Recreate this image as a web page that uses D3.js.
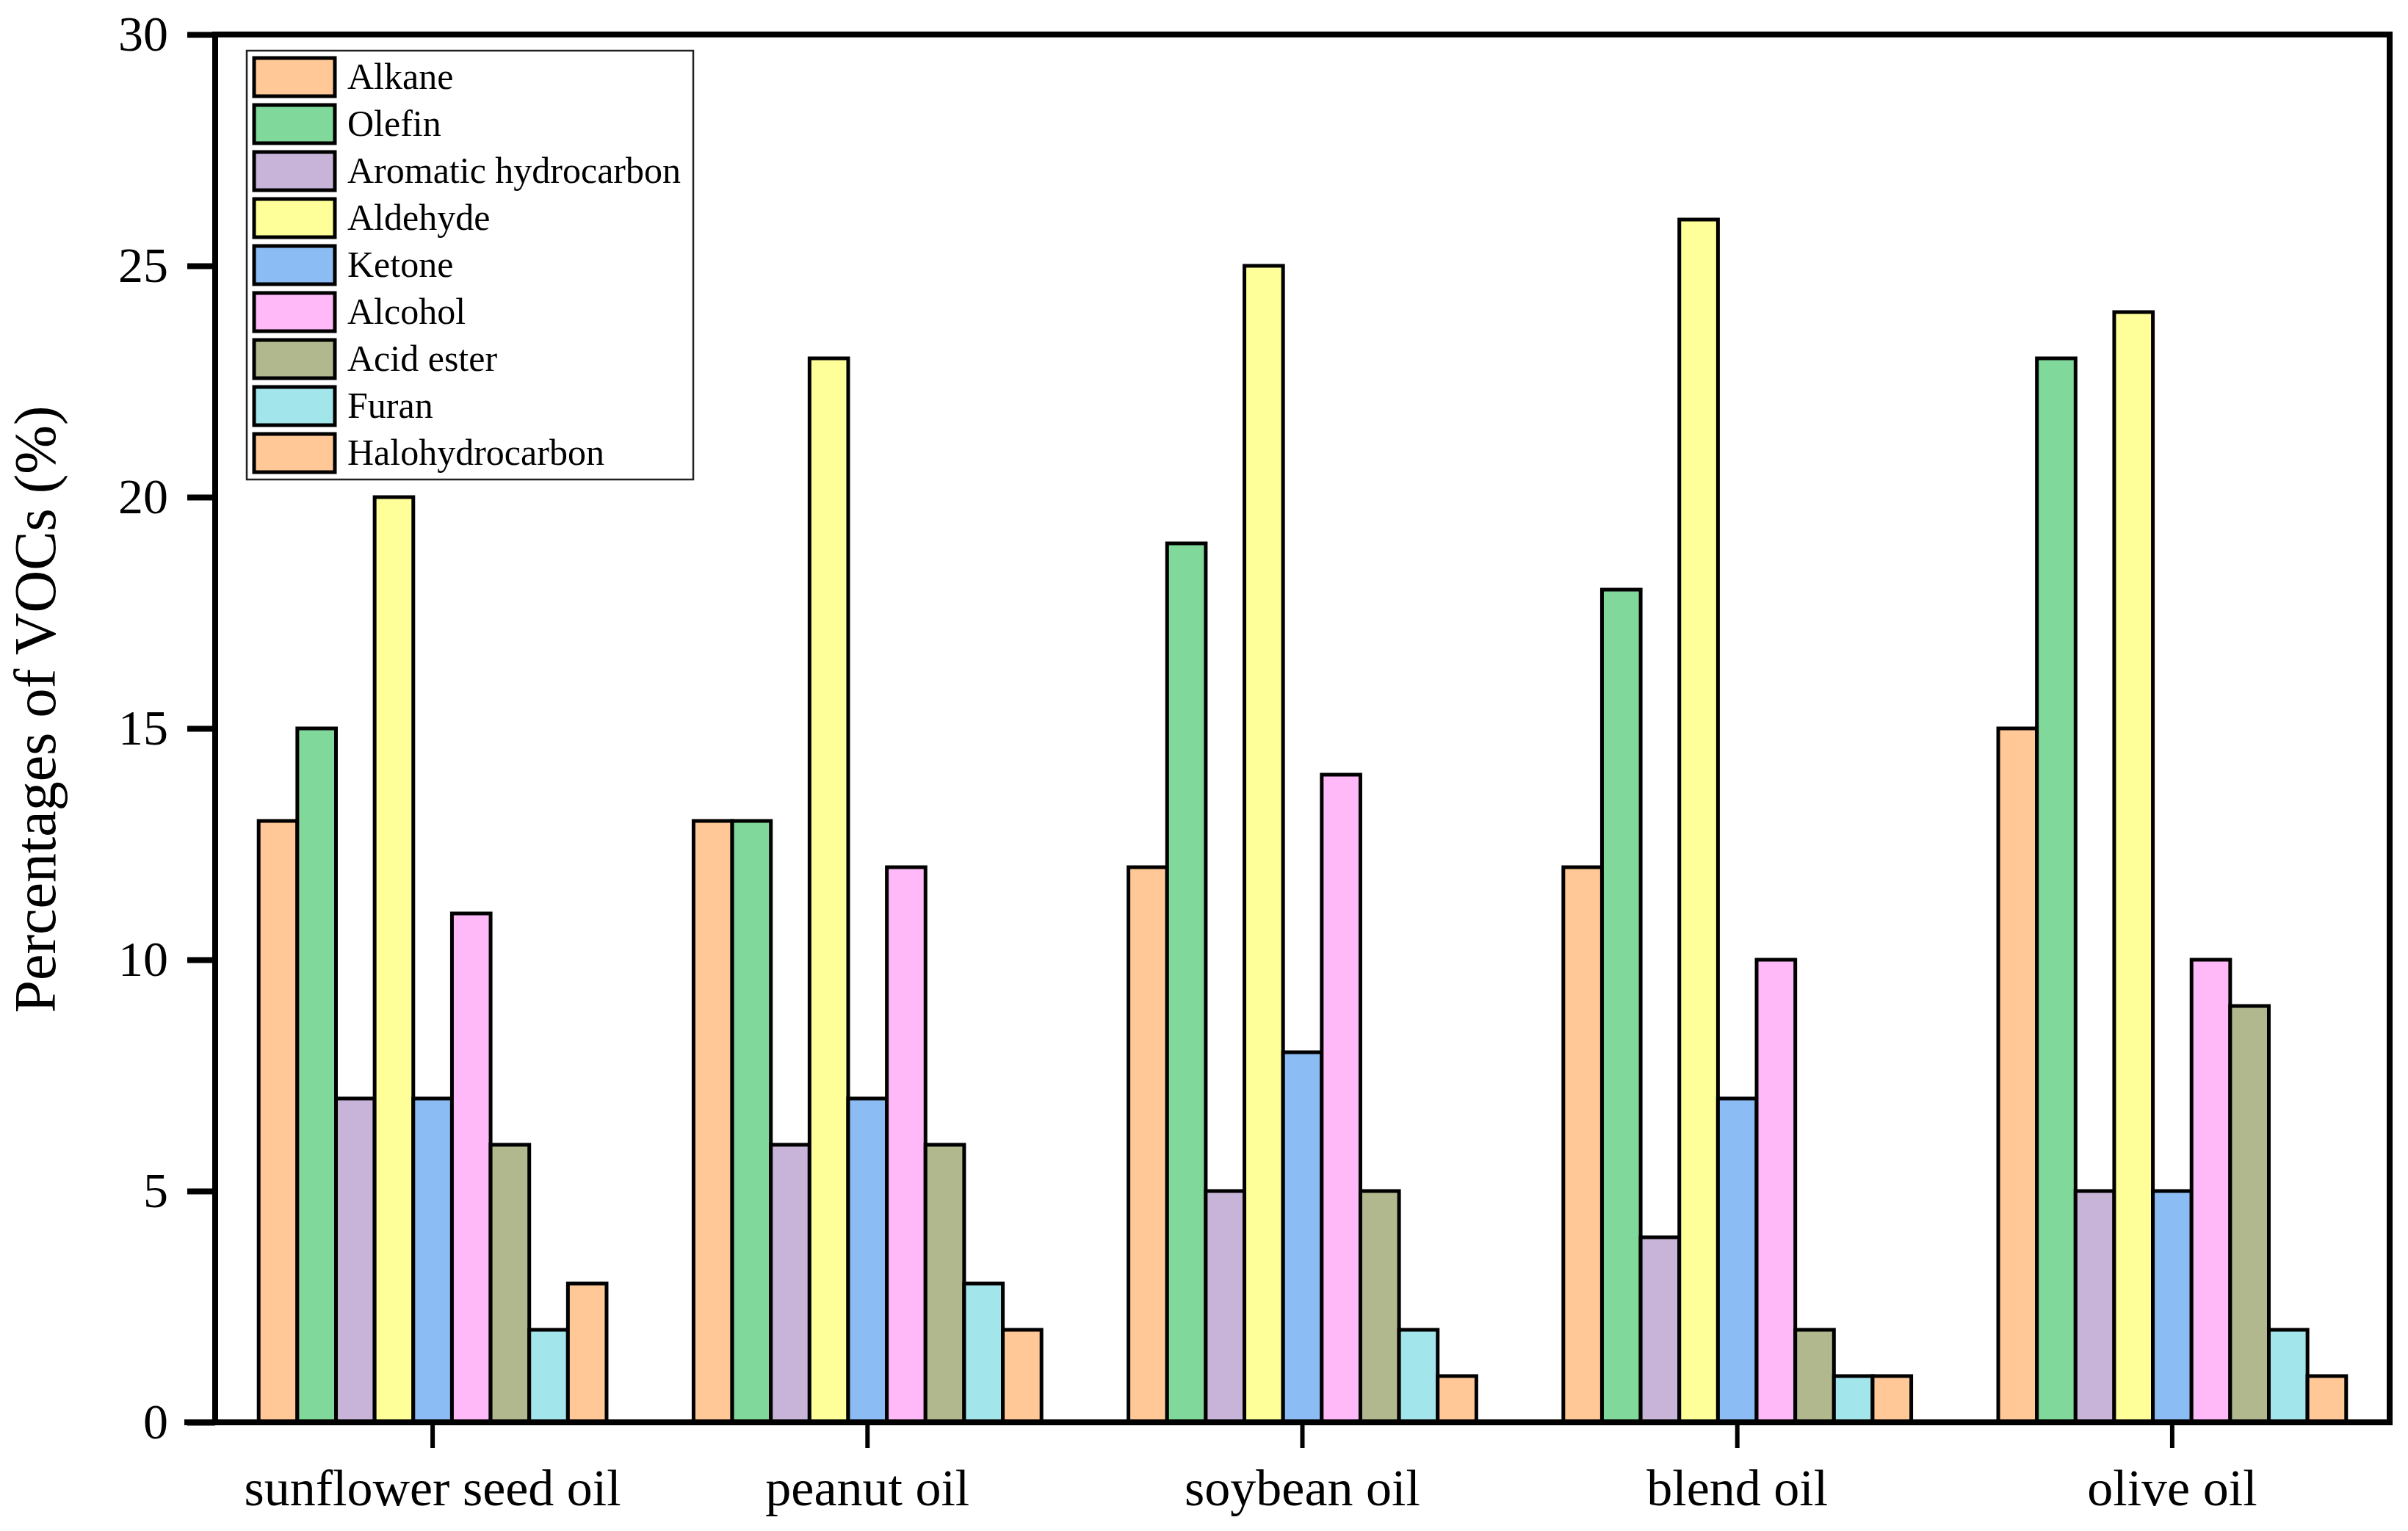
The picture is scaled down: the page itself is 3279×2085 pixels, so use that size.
<!DOCTYPE html>
<html>
<head>
<meta charset="utf-8">
<script src="https://cdn.jsdelivr.net/npm/d3@7"></script>
<style>
  html, body { margin: 0; padding: 0; background: #fff; }
  svg { display: block; font-family: "Liberation Serif", "Times New Roman", serif; }
</style>
</head>
<body>
<svg id="chart" width="3279" height="2085"></svg>
<script>
// ---- data ----
const categories = ["sunflower seed oil", "peanut oil", "soybean oil", "blend oil", "olive oil"];
const seriesNames = ["Alkane", "Olefin", "Aromatic hydrocarbon", "Aldehyde", "Ketone", "Alcohol", "Acid ester", "Furan", "Halohydrocarbon"];
const alkane = [13, 13, 12, 12, 15];
const olefin = [15, 13, 19, 18, 23];
const aromatic = [7, 6, 5, 4, 5];
const aldehyde = [20, 23, 25, 26, 24];
const ketone = [7, 7, 8, 7, 5];
const alcohol = [11, 12, 14, 10, 10];
const acidEster = [6, 6, 5, 2, 9];
const furan = [2, 3, 2, 1, 2];
const halohydrocarbon = [3, 2, 1, 1, 1];
const seriesValues = [alkane, olefin, aromatic, aldehyde, ketone, alcohol, acidEster, furan, halohydrocarbon];
const seriesColors = ["#FFC896", "#80D89A", "#C8B4D8", "#FFFF99", "#8CBCF4", "#FFB8F8", "#B2B88E", "#A2E6EC", "#FFC896"];
const yTicks = [0, 5, 10, 15, 20, 25, 30];
const yLabel = "Percentages of VOCs (%)";

(function () {
// ---- layout ----
const svg = d3.select("#chart");
const pLeft = 293, pRight = 3254, pTop = 47, pBottom = 1937;

const x0 = d3.scaleBand().domain(categories).range([pLeft, pRight]).paddingInner(0).paddingOuter(0);
const step = x0.bandwidth();
const x1 = d3.scaleBand().domain(seriesNames).range([step * 0.1, step * 0.9]).padding(0);
const y = d3.scaleLinear().domain([0, 30]).range([pBottom, pTop]);

// bars
const groups = svg.append("g").selectAll("g")
  .data(categories)
  .join("g")
  .attr("transform", d => `translate(${x0(d)},0)`);

groups.selectAll("rect")
  .data((c, ci) => seriesNames.map((s, si) => ({ s, si, v: seriesValues[si][ci] })))
  .join("rect")
  .attr("x", d => x1(d.s))
  .attr("y", d => y(d.v))
  .attr("width", x1.bandwidth())
  .attr("height", d => y(0) - y(d.v))
  .attr("fill", d => seriesColors[d.si])
  .attr("stroke", "#000")
  .attr("stroke-width", 5);

// frame (top and right)
svg.append("line").attr("x1", pLeft).attr("x2", pRight).attr("y1", pTop).attr("y2", pTop)
  .attr("stroke", "#000").attr("stroke-width", 8);
svg.append("line").attr("x1", pRight).attr("x2", pRight).attr("y1", pTop - 4).attr("y2", pBottom)
  .attr("stroke", "#000").attr("stroke-width", 8);

// y axis
const yAxis = d3.axisLeft(y).tickValues(yTicks).tickSize(38).tickPadding(26).tickFormat(d3.format("d"));
const gy = svg.append("g").attr("transform", `translate(${pLeft},0)`).call(yAxis);
gy.select(".domain").attr("stroke", "#000").attr("stroke-width", 8)
  .attr("d", `M0,${pBottom + 4}V${pTop - 4}`);
gy.selectAll(".tick line").attr("stroke", "#000").attr("stroke-width", 8);
gy.selectAll(".tick text").attr("fill", "#000").attr("font-size", 68)
  .attr("font-family", "Liberation Serif, Times New Roman, serif");

// x axis
const xAxis = d3.axisBottom(x0).tickSize(35).tickPadding(0);
const gx = svg.append("g").attr("transform", `translate(0,${pBottom})`).call(xAxis);
gx.select(".domain").attr("stroke", "#000").attr("stroke-width", 8)
  .attr("d", `M${pLeft - 42},0H${pRight + 4}`);
gx.selectAll(".tick line").attr("stroke", "#000").attr("stroke-width", 6);
gx.selectAll(".tick text").attr("fill", "#000").attr("font-size", 70)
  .attr("font-family", "Liberation Serif, Times New Roman, serif")
  .attr("dy", null).attr("y", 113);

// y label
svg.append("text")
  .attr("transform", `translate(75,966) rotate(-90)`)
  .attr("text-anchor", "middle")
  .attr("font-size", 80)
  .attr("fill", "#000")
  .text(yLabel);

// legend
const lg = svg.append("g");
lg.append("rect").attr("x", 336).attr("y", 69).attr("width", 608).attr("height", 584)
  .attr("fill", "#fff").attr("stroke", "#222").attr("stroke-width", 2.5);
const items = lg.selectAll("g.item").data(seriesNames).join("g").attr("class", "item")
  .attr("transform", (d, i) => `translate(346,${79 + i * 64})`);
items.append("rect").attr("width", 110).attr("height", 52)
  .attr("fill", (d, i) => seriesColors[i]).attr("stroke", "#000").attr("stroke-width", 5);
items.append("text").attr("x", 127).attr("y", 42).attr("font-size", 50).attr("fill", "#000")
  .text(d => d);
})();
</script>
</body>
</html>
